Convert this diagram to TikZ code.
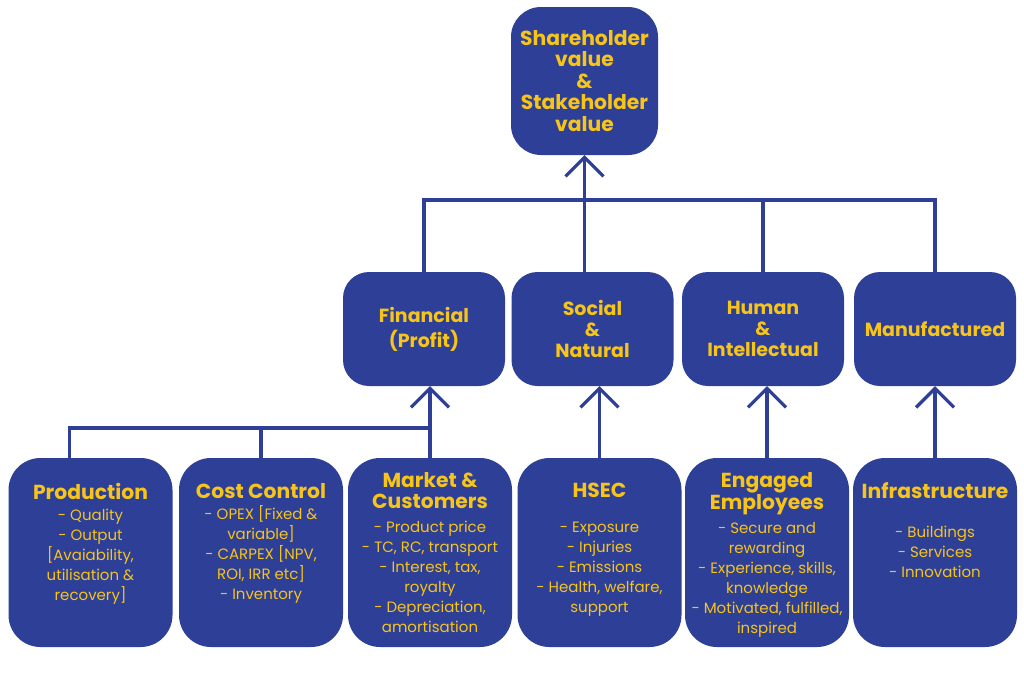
\documentclass[tikz,border=0pt]{standalone}
\usepackage{fontspec}
\setmainfont{Poppins}
\usetikzlibrary{positioning, arrows.meta}

\definecolor{capblue}{RGB}{45,63,151}
\definecolor{capgold}{RGB}{247,196,25}

\tikzset{
  box/.style={fill=capblue, rounded corners=26pt, inner sep=0pt, text=capgold,
    align=center, font=\fontsize{19}{21}\selectfont\bfseries},
  topbox/.style={box, minimum width=147pt, minimum height=148pt, rounded corners=30pt,
    font=\fontsize{20.3}{21.5}\selectfont\bfseries},
  midbox/.style={box, minimum width=162pt, minimum height=114pt},
  lowbox/.style={box, minimum width=164pt, minimum height=189pt, rounded corners=32pt},
  body/.style={inner sep=0pt, text=capgold, align=center, font=\fontsize{15}{20}\selectfont},
  link/.style={draw=capblue, line width=3.2pt},
  uparrow/.style={link, -{Straight Barb[length=19pt, width=38pt]}}
}
\newcommand{\headfont}{\fontsize{20.3}{21}\selectfont\bfseries}

\begin{document}
\begin{tikzpicture}[x=1pt, y=-1pt]
 \fill[white] (0,0) rectangle (1024,683);
 \useasboundingbox (0,0) rectangle (1024,683);

 % goal
 \node[topbox] (top) at (584.5,81) {Shareholder\\value\\\&\\Stakeholder\\value};

 % capitals
 \node[midbox] (fin)  at (424,329)   {Financial\\[4pt](Profit)};
 \node[midbox] (soc)  at (592.5,329) {Social\\\&\\Natural};
 \node[midbox] (hum)  at (763,329)   {Human\\\&\\Intellectual};
 \node[midbox] (manu) at (935,329)   {Manufactured};

 % drivers
 \node[lowbox] (prod)  at (90.5,552.5)  {};
 \node[lowbox] (cost)  at (261,552.5)   {};
 \node[lowbox] (mkt)   at (430,552.5)   {};
 \node[lowbox] (hsec)  at (599.5,552.5) {};
 \node[lowbox] (eng)   at (767,552.5)   {};
 \node[lowbox] (infra) at (935,552.5)   {};

 \node[body, below=25pt of prod.north] (prodtxt)
  {{\headfont Production}\\[1pt]- Quality\\- Output\\{[}Avaiability,\\utilisation \&\\recovery]};
 \node[body, below=25pt of cost.north] (costtxt)
  {{\headfont Cost Control}\\[1pt]- OPEX [Fixed \&\\variable]\\- CARPEX [NPV,\\ROI, IRR etc]\\- Inventory};
 \node[body, below=14pt of mkt.north] (mkttxt)
  {{\headfont Market \&}\\[1pt]{\headfont Customers}\\[4pt]- Product price\\- TC, RC, transport\\- Interest, tax,\\royalty\\- Depreciation,\\amortisation};
 \node[body, below=25pt of hsec.north] (hsectxt)
  {{\headfont HSEC}\\[15pt]- Exposure\\- Injuries\\- Emissions\\- Health, welfare,\\support};
 \node[body, below=14pt of eng.north] (engtxt)
  {{\headfont Engaged}\\[1pt]{\headfont Employees}\\[4pt]- Secure and\\rewarding\\- Experience, skills,\\knowledge\\- Motivated, fulfilled,\\inspired};
 \node[body, below=25pt of infra.north] (infratxt)
  {{\headfont Infrastructure}\\[18.5pt]- Buildings\\- Services\\- Innovation};

 % upper connectors
 \coordinate (topbus) at (0,200);
 \draw[uparrow] (top.south |- soc.north) -- (top.south);
 \draw[link] (fin.north) |- (manu.north |- topbus) -- (manu.north);
 \draw[link] (hum.north) -- (hum.north |- topbus);

 % lower connectors
 \coordinate (lowbus) at (0,428);
 \draw[uparrow] (mkt.north) -- (mkt.north |- fin.south);
 \draw[link] ([xshift=-21pt]prod.north) |- (mkt.north |- lowbus);
 \draw[link] (cost.north) -- (cost.north |- lowbus);
 \draw[uparrow] (hsec.north) -- (hsec.north |- soc.south);
 \draw[uparrow] (eng.north) -- (eng.north |- hum.south);
 \draw[uparrow] (infra.north) -- (infra.north |- manu.south);
\end{tikzpicture}
\end{document}
